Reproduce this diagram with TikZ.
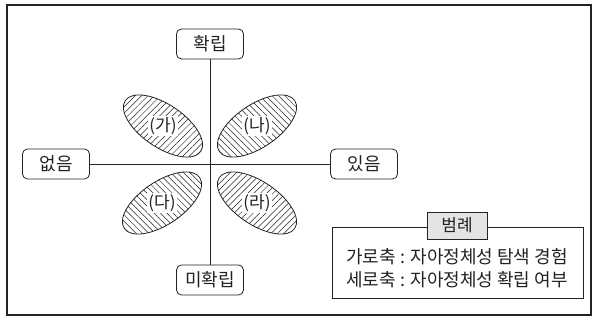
\documentclass[tikz,border=0pt]{standalone}
\usepackage{fontspec}
\setmainfont{Noto Sans CJK KR}
\usetikzlibrary{shapes.geometric,patterns.meta}
\definecolor{ln}{HTML}{222222}
\definecolor{legfill}{HTML}{E4E4E4}
\tikzset{
  x=1pt,y=1pt,
  axisbox/.style={draw=ln,line width=0.8pt,rounded corners=5pt,minimum width=67pt,minimum height=30pt,inner sep=0pt,font=\fontsize{18}{20}\selectfont,text=ln},
  axisline/.style={draw=ln,line width=0.8pt},
  blob/.style={draw=ln,line width=0.8pt,ellipse,minimum width=91pt,minimum height=43pt,inner sep=0pt},
  hatchA/.style={pattern={Lines[angle=45,distance=4.5pt,line width=0.5pt]},pattern color=ln},
  hatchB/.style={pattern={Lines[angle=-45,distance=4.5pt,line width=0.5pt]},pattern color=ln},
  blabel/.style={fill=white,inner sep=1pt,font=\fontsize{17}{19}\selectfont,text=ln},
  legtitle/.style={draw=ln,line width=0.8pt,fill=legfill,minimum width=60pt,minimum height=27pt,inner sep=0pt,font=\fontsize{17}{19}\selectfont,text=ln},
  legbox/.style={draw=ln,line width=0.8pt},
  legtext/.style={font=\fontsize{18}{20}\selectfont,text=ln,inner sep=0pt}
}
\begin{document}
\begin{tikzpicture}
\useasboundingbox (0,0) rectangle (599,320);
\draw[ln,line width=1.2pt] (7,5) rectangle (591,315);
% axis nodes
\node[axisbox] (top) at (210,276) {확립};
\node[axisbox] (bot) at (210,40) {미확립};
\node[axisbox] (right) at (364,156) {있음};
\node[axisbox] (left) at (56,156) {없음};
\draw[axisline] (top) -- (bot);
\draw[axisline] (left) -- (right);
% blobs
\node[blob,hatchA,rotate=-34] (ga) at (163,194) {};
\node[blob,hatchB,rotate=34] (na) at (257,194) {};
\node[blob,hatchB,rotate=34] (da) at (162,117) {};
\node[blob,hatchA,rotate=-34] (ra) at (257,117) {};
\node[blabel] (gal) at (ga.center) {(가)};
\node[blabel] (nal) at (na.center) {(나)};
\node[blabel] (dal) at (da.center) {(다)};
\node[blabel] (ral) at (ra.center) {(라)};
% legend
\draw[legbox] (332,22) rectangle (583,93);
\node[legtitle] (leg) at (457,94.5) {범례};
\node[legtext] (l1) at (457,63) {가로축 : 자아정체성 탐색 경험};
\node[legtext] (l2) at (457,40) {세로축 : 자아정체성 확립 여부};
\end{tikzpicture}
\end{document}
